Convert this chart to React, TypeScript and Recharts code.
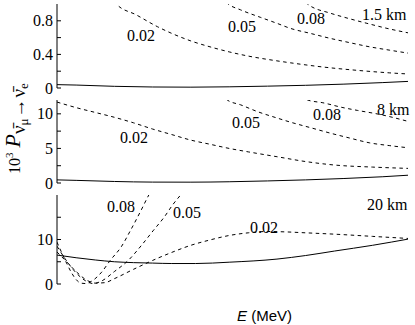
import React from 'react';
import { LineChart, Line, XAxis, YAxis } from 'recharts';

// ---------------------------------------------------------------------------
// Data: E in MeV, probability scaled by 10^3
// ---------------------------------------------------------------------------

// 1.5 km
const solid1E = [18, 20, 24, 28, 32, 36, 40, 44, 48, 52, 55];
const solid1P = [0.04, 0.035, 0.02, 0.012, 0.01, 0.014, 0.022, 0.032, 0.046, 0.064, 0.08];
const d02_1E = [23.5, 24.2, 26.3, 28.5, 30, 32, 34, 36, 38, 40.6, 42.4, 45.8, 49.4, 52.8, 55];
const d02_1P = [1.1, 1.0, 0.87, 0.73, 0.65, 0.56, 0.49, 0.43, 0.38, 0.33, 0.3, 0.25, 0.21, 0.18, 0.165];
const d05_1E = [35.2, 35.9, 37.2, 39.3, 41, 42.4, 44.5, 46.6, 48.6, 50.7, 52.8, 55];
const d05_1P = [1.08, 1.0, 0.93, 0.84, 0.77, 0.71, 0.65, 0.59, 0.54, 0.49, 0.45, 0.41];
const d08_1E = [43.5, 44.2, 46.6, 48.1, 50.4, 52.5, 55];
const d08_1P = [1.08, 1.0, 0.89, 0.84, 0.77, 0.71, 0.65];

// 8 km
const solid2E = [18, 20, 24, 28, 32, 36, 40, 44, 48, 52, 55];
const solid2P = [0.45, 0.38, 0.22, 0.13, 0.12, 0.18, 0.3, 0.45, 0.65, 0.9, 1.15];
const d02_2E = [18, 20, 22, 24, 26, 28, 30, 32, 34, 36, 38, 41, 44, 47, 51, 55];
const d02_2P = [11.7, 10.9, 10.2, 9.5, 8.7, 7.8, 7.0, 6.2, 5.6, 5.0, 4.5, 3.8, 3.1, 2.6, 2.3, 2.1];
const d05_2E = [35.2, 35.8, 37.2, 39, 41, 42.4, 44.5, 46.6, 48.6, 50.7, 52.8, 55];
const d05_2P = [12.8, 12, 11.3, 10.3, 9.4, 8.8, 8.0, 7.2, 6.5, 5.8, 5.4, 5.05];
const d08_2E = [43.5, 44.2, 45.8, 47.9, 49.4, 51.8, 55];
const d08_2P = [12.5, 12, 11.6, 10.9, 10.5, 9.9, 8.8];

// 20 km
const solid3E = [18, 20, 22, 24, 26, 28, 30, 32.5, 36, 41, 44, 47, 51, 55];
const solid3P = [6.5, 5.9, 5.4, 5.0, 4.8, 4.7, 4.6, 4.6, 4.9, 5.6, 6.4, 7.4, 8.7, 10.2];
const d02_3E = [18, 19, 20, 21, 22, 23, 24, 26, 28, 30, 32, 34, 36, 38, 40, 42, 44, 47, 51, 55];
const d02_3P = [7.2, 5.0, 2.8, 1.0, 0.2, 0.3, 1.2, 3.3, 5.3, 7.1, 8.7, 9.9, 10.9, 11.5, 11.8, 11.7, 11.5, 11.2, 10.7, 10.2];
const d05_3E = [18, 19, 20, 21, 21.8, 22.6, 24, 25.4, 26.8, 28.1, 29.2, 30.1, 31, 31.5];
const d05_3P = [8.5, 5.2, 2.5, 0.7, 0.1, 0.6, 2.8, 5.2, 8.6, 12.1, 15, 17.8, 20.2, 21.5];
const d08_3E = [18, 18.5, 19, 19.5, 20, 20.5, 21, 21.6, 22.6, 23.6, 24.7, 25.7, 26.8, 27.6, 28];
const d08_3P = [9.4, 7.0, 4.7, 2.6, 1.0, 0.2, 0.1, 0.6, 2.5, 5.4, 8.3, 12.1, 16.6, 20, 21.5];

// axis ticks
const xTicks = [20, 22.5, 25, 27.5, 30, 32.5, 35, 37.5, 40, 42.5, 45, 47.5, 50, 52.5];
const xLabels = [20, 30, 40, 50];
const xDomain = [18, 54.7];

const zip = (es: number[], ps: number[]) => es.map((e, i) => ({ e, p: ps[i] }));

const SERIF = '"Liberation Serif", "Times New Roman", serif';
const FRAME = '#000';

interface Curve {
  data: { e: number; p: number }[];
  dashed: boolean;
}

interface PanelProps {
  top: number;
  plotHeight: number;
  bottom: number;
  yMax: number;
  yTicks: number[];
  yLabels: number[];
  curves: Curve[];
  showX?: boolean;
}

function Panel({ top, plotHeight, bottom, yMax, yTicks, yLabels, curves, showX }: PanelProps) {
  const bottomTick = (p: any) => (
    <g>
      <line x1={p.x} y1={p.y} x2={p.x} y2={p.y - 4} stroke={FRAME} />
      {showX && xLabels.includes(p.payload.value) && (
        <text x={p.x} y={p.y + 19} textAnchor="middle" fontFamily={SERIF} fontSize={16} fill="#000">
          {p.payload.value}
        </text>
      )}
    </g>
  );
  const topTick = (p: any) => <line x1={p.x} y1={p.y} x2={p.x} y2={p.y + 4} stroke={FRAME} />;
  const leftTick = (p: any) => (
    <g>
      <line x1={p.x} y1={p.y} x2={p.x + 4} y2={p.y} stroke={FRAME} />
      {yLabels.includes(p.payload.value) && (
        <text x={p.x - 4} y={p.y + 5.5} textAnchor="end" fontFamily={SERIF} fontSize={16} fill="#000">
          {p.payload.value}
        </text>
      )}
    </g>
  );
  const rightTick = (p: any) => <line x1={p.x} y1={p.y} x2={p.x - 4} y2={p.y} stroke={FRAME} />;

  return (
    <div style={{ position: 'absolute', left: 0, top }}>
      <LineChart width={415} height={plotHeight + 4 + bottom} margin={{ top: 4, right: 7, bottom, left: 0 }}>
        <XAxis xAxisId="b" type="number" dataKey="e" domain={xDomain} allowDataOverflow ticks={xTicks} interval={0}
          orientation="bottom" height={0} tickSize={0} tickMargin={0} tickLine={false} axisLine={{ stroke: FRAME }} tick={bottomTick} />
        <XAxis xAxisId="t" type="number" dataKey="e" domain={xDomain} allowDataOverflow ticks={xTicks} interval={0}
          orientation="top" height={0} tickSize={0} tickMargin={0} tickLine={false} axisLine={{ stroke: FRAME }} tick={topTick} />
        <YAxis yAxisId="l" type="number" domain={[0, yMax]} allowDataOverflow ticks={yTicks} interval={0}
          width={57} tickSize={0} tickMargin={0} tickLine={false} axisLine={{ stroke: FRAME }} tick={leftTick} />
        <YAxis yAxisId="r" orientation="right" type="number" domain={[0, yMax]} allowDataOverflow ticks={yTicks} interval={0}
          width={0} tickSize={0} tickMargin={0} tickLine={false} axisLine={{ stroke: FRAME }} tick={rightTick} />
        {curves.map((c, i) => (
          <Line key={i} xAxisId="b" yAxisId="l" data={c.data} dataKey="p" type="monotone" stroke="#000"
            strokeWidth={1} strokeDasharray={c.dashed ? '3.5 3.5' : undefined} dot={false} isAnimationActive={false} />
        ))}
      </LineChart>
    </div>
  );
}

export default function App() {
  const t = (x: number, y: number, s: string) => (
    <text x={x} y={y} fontFamily={SERIF} fontSize={16} fill="#000">{s}</text>
  );
  return (
    <div style={{ position: 'absolute', left: 0, top: 0, width: 415, height: 325, background: '#fff' }}>
      <Panel top={0} plotHeight={84} bottom={10} yMax={1} yTicks={[0, 0.2, 0.4, 0.6, 0.8]} yLabels={[0, 0.4, 0.8]}
        curves={[
          { data: zip(solid1E, solid1P), dashed: false },
          { data: zip(d02_1E, d02_1P), dashed: true },
          { data: zip(d05_1E, d05_1P), dashed: true },
          { data: zip(d08_1E, d08_1P), dashed: true },
        ]} />
      <Panel top={96} plotHeight={83} bottom={10} yMax={12} yTicks={[0, 2.5, 5, 7.5, 10]} yLabels={[0, 5, 10]}
        curves={[
          { data: zip(solid2E, solid2P), dashed: false },
          { data: zip(d02_2E, d02_2P), dashed: true },
          { data: zip(d05_2E, d05_2P), dashed: true },
          { data: zip(d08_2E, d08_2P), dashed: true },
        ]} />
      <Panel top={191} plotHeight={89} bottom={40} yMax={20} yTicks={[0, 5, 10, 15]} yLabels={[0, 10]} showX
        curves={[
          { data: zip(solid3E, solid3P), dashed: false },
          { data: zip(d02_3E, d02_3P), dashed: true },
          { data: zip(d05_3E, d05_3P), dashed: true },
          { data: zip(d08_3E, d08_3P), dashed: true },
        ]} />
      <svg width={415} height={325} style={{ position: 'absolute', left: 0, top: 0, pointerEvents: 'none' }}>
        {t(127, 41, '0.02')}
        {t(228, 32, '0.05')}
        {t(297, 24, '0.08')}
        {t(362, 20, '1.5 km')}
        {t(120, 143, '0.02')}
        {t(232, 128, '0.05')}
        {t(313, 120, '0.08')}
        {t(377, 115, '8 km')}
        {t(107, 212, '0.08')}
        {t(173, 218, '0.05')}
        {t(250, 233, '0.02')}
        {t(367, 210, '20 km')}
        <text x={237} y={321} fontFamily='"Liberation Sans", Arial, sans-serif' fontSize={15} fill="#000">
          <tspan fontStyle="italic">E</tspan> (MeV)
        </text>
        <text transform="translate(20,174) rotate(-90)" fontFamily={SERIF} fill="#000">
          <tspan fontSize={16}>10</tspan>
          <tspan fontSize={11} dy={-7}>3</tspan>
          <tspan fontSize={22} fontStyle="italic" dx={5} dy={7}>P</tspan>
          <tspan fontSize={19} dy={5}>{'\u03bd\u0304'}</tspan>
          <tspan fontSize={13} dy={3}>μ</tspan>
          <tspan fontSize={19} dx={1} dy={-3}>→</tspan>
          <tspan fontSize={19} dx={1}>{'\u03bd\u0304'}</tspan>
          <tspan fontSize={13} dy={3}>e</tspan>
        </text>
      </svg>
    </div>
  );
}
